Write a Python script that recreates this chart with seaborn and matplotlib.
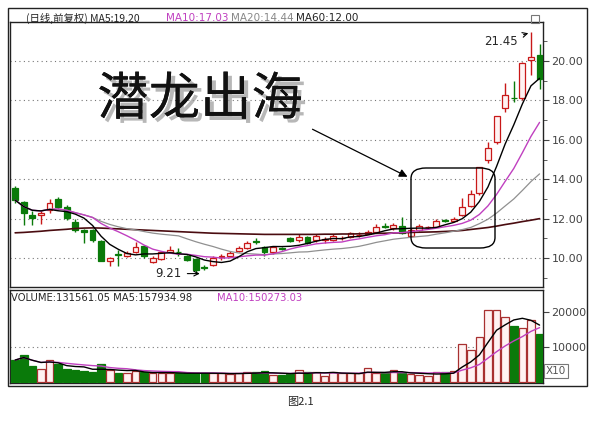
import numpy as np
import pandas as pd
import matplotlib
matplotlib.use("Agg")
import matplotlib.pyplot as plt
import matplotlib.patheffects as pe
from matplotlib.patches import Rectangle, FancyBboxPatch
import seaborn as sns

opens = [13.55,12.84,12.2,12.2,12.43,13.0,12.6,11.84,11.4,11.4,10.86,9.87,10.2,10.1,10.3,10.6,9.8,9.95,10.3,10.32,
         10.1,9.95,9.52,9.65,10.05,10.1,10.35,10.5,10.85,10.55,10.3,10.5,11.0,10.9,
         11.05,10.9,10.92,10.9,11.0,11.05,11.15,11.2,11.3,11.62,11.5,11.65,11.1,11.4,11.55,11.6,11.92,11.9,12.2,12.65,13.3,15.0,15.9,17.6,18.12,18.1,20.05,20.3]
closes = [12.94,12.28,12.05,12.3,12.77,12.6,12.05,11.42,11.3,10.9,9.86,10.0,10.15,10.24,10.55,10.1,10.0,10.3,10.4,10.3,
          9.9,9.4,9.5,10.0,10.07,10.25,10.5,10.78,10.8,10.3,10.55,10.48,10.85,11.05,
          10.78,11.1,10.93,11.1,11.0,11.25,11.18,11.3,11.6,11.6,11.7,11.25,11.4,11.65,11.58,11.9,11.9,12.0,12.6,13.25,14.6,15.6,17.2,18.3,18.1,19.9,20.2,19.1]
highs = [13.65,12.9,12.4,12.45,13.0,13.1,12.7,12.0,11.45,11.45,10.9,10.05,10.4,10.35,10.8,10.65,10.1,10.35,10.6,10.5,
         10.15,10.0,9.65,10.1,10.2,10.35,10.6,10.85,11.0,10.6,10.6,10.55,11.05,11.2,
         11.1,11.2,11.05,11.2,11.1,11.3,11.3,11.4,11.75,11.8,11.8,12.1,11.5,11.75,11.65,12.0,12.0,12.1,13.05,13.45,14.6,15.9,17.2,18.9,19.0,19.95,21.45,20.85]
lows = [12.8,11.67,11.7,11.75,12.3,12.5,11.95,11.3,10.76,10.8,9.85,9.6,9.6,10.05,10.25,10.0,9.75,9.9,10.25,10.1,
        9.85,9.21,9.4,9.6,9.9,10.05,10.3,10.45,10.7,10.1,10.2,10.4,10.8,10.8,
        10.7,10.8,10.75,10.85,10.9,11.0,11.05,11.2,11.25,11.5,11.4,11.2,11.05,11.35,11.45,11.55,11.85,11.85,12.15,12.6,13.2,14.8,15.8,17.4,17.9,18.0,19.3,18.6]
ma60 = [11.28,11.3,11.33,11.36,11.4,11.43,11.46,11.5,11.52,11.53,
        11.52,11.5,11.48,11.46,11.44,11.42,11.4,11.38,11.36,11.34,
        11.32,11.3,11.28,11.26,11.25,11.24,11.23,11.22,11.21,11.2,
        11.2,11.2,11.2,11.2,11.2,11.2,11.21,11.21,11.22,11.22,
        11.23,11.24,11.25,11.26,11.27,11.28,11.3,11.31,11.32,11.33,
        11.35,11.37,11.4,11.45,11.5,11.55,11.62,11.7,11.77,11.85,
        11.92,12.0]
volumes = [6190,7620,4570,3620,6190,4950,3620,3330,3050,2860,
           4950,3330,2380,2380,3050,2860,2380,2380,2380,2570,
           2380,2380,2380,2380,2380,2100,2380,2670,2670,3050,
           1900,1900,2100,3330,2670,2860,1710,2670,2380,2380,
           2380,3810,2380,2380,3330,2380,2100,1900,1710,2860,
           2670,3050,10670,9050,12860,20480,20480,18380,16000,15240,17620,13620]
price_ticks = [10, 12, 14, 16, 18, 20]
vol_ticks = [10000, 20000]

n = len(closes)
df = pd.DataFrame({"x": np.arange(n), "open": opens, "close": closes, "high": highs,
                   "low": lows, "vol": volumes, "ma60": ma60})
df["ma5"] = df["close"].rolling(5, min_periods=1).mean()
df["ma10"] = df["close"].rolling(10, min_periods=1).mean()
df["ma20"] = df["close"].rolling(20, min_periods=1).mean()
df["vma5"] = df["vol"].rolling(5, min_periods=1).mean()
df["vma10"] = df["vol"].rolling(10, min_periods=1).mean()

sns.set_style("white")
plt.rcParams['font.family'] = ['DejaVu Sans', 'Noto Sans CJK SC']

W, H = 599, 422
fig = plt.figure(figsize=(W/100, H/100), dpi=100)
def fx(x): return x / W
def fy(y): return 1 - y / H

axp = fig.add_axes([fx(10), fy(287), fx(543)-fx(10), fy(22)-fy(287)])
axv = fig.add_axes([fx(10), fy(383), fx(543)-fx(10), fy(290)-fy(383)])

UP_E, UP_F, DN = "#c81818", "#fff2f2", "#0a7a0a"
bw = 0.68
for r in df.itertuples():
    up = r.close >= r.open
    col = UP_E if up else DN
    bot, top = min(r.open, r.close), max(r.open, r.close)
    axp.vlines(r.x, r.low, bot, color=col, lw=1, zorder=3)
    axp.vlines(r.x, top, r.high, color=col, lw=1, zorder=3)
    h = max(top - bot, 0.03)
    axp.add_patch(Rectangle((r.x - bw/2, bot), bw, h, facecolor=UP_F if up else DN,
                            edgecolor=col, lw=0.9, zorder=4))
    axv.add_patch(Rectangle((r.x - 0.44, 0), 0.88, r.vol, facecolor=UP_F if up else DN,
                            edgecolor="#a83030" if up else DN, lw=0.9, zorder=3))

for col, c, lw in [("ma60", "#4a0c10", 1.2), ("ma20", "#909090", 0.9),
                   ("ma10", "#c040c0", 1.0), ("ma5", "#000000", 1.0)]:
    sns.lineplot(data=df, x="x", y=col, ax=axp, color=c, lw=lw, zorder=5)
sns.lineplot(data=df, x="x", y="vma10", ax=axv, color="#c040c0", lw=1.0, zorder=5)
sns.lineplot(data=df, x="x", y="vma5", ax=axv, color="#000000", lw=1.0, zorder=5)

for ax in (axp, axv):
    ax.set_xlim(-0.6, 61.4)
    ax.set_xlabel(""); ax.set_ylabel("")
    ax.set_xticks([])
    ax.yaxis.tick_right()
    ax.tick_params(axis="y", direction="out", length=4, labelsize=8, labelcolor="#444444",
                   colors="#444444", pad=2)
    for s in ax.spines.values():
        s.set_color("#222222"); s.set_linewidth(1)
axp.set_ylim(8.53, 21.98)
axp.set_yticks(price_ticks, [f"{v:.2f}" for v in price_ticks])
axp.set_yticks(np.arange(9, 22, 1), minor=True)
axp.tick_params(axis="y", which="minor", length=3, colors="#444444")
for v in price_ticks:
    axp.axhline(v, color="#777777", ls=(0, (1, 3)), lw=0.8, zorder=1)
axv.set_ylim(-370, 26200)
axv.set_yticks(vol_ticks, [str(v) for v in vol_ticks])
axv.axhline(10000, color="#777777", ls=(0, (1, 3)), lw=0.8, zorder=1)

axp.annotate("21.45", xy=(60, 21.45), xytext=(56.5, 21.0), fontsize=8.5, ha="center", va="center",
             arrowprops=dict(arrowstyle="->", lw=0.8, color="k"))
axp.annotate("9.21", xy=(21.8, 9.21), xytext=(17.8, 9.21), fontsize=8.5, ha="center", va="center",
             arrowprops=dict(arrowstyle="->", lw=0.8, color="k"))

fig.text(fx(26), fy(18), "(日线,前复权) MA5:19.20", fontsize=7.5, va="center",
         family=['Noto Sans CJK SC', 'DejaVu Sans'])
fig.text(fx(166), fy(18), "MA10:17.03", fontsize=7.5, va="center", color="#c040c0")
fig.text(fx(231), fy(18), "MA20:14.44", fontsize=7.5, va="center", color="#888888")
fig.text(fx(296), fy(18), "MA60:12.00", fontsize=7.5, va="center", color="#222222")
fig.text(fx(11), fy(298), "VOLUME:131561.05 MA5:157934.98", fontsize=7.2, va="center")
fig.text(fx(217), fy(298), "MA10:150273.03", fontsize=7.2, va="center", color="#c040c0")
fig.text(fx(546), fy(371), "X10", fontsize=7.5, va="center", color="#555555",
         bbox=dict(boxstyle="square,pad=0.15", fc="white", ec="#777777", lw=0.8))
fig.text(fx(300), fy(402), "图2.1", fontsize=8, ha="center", va="center",
         family=['Noto Sans CJK SC', 'DejaVu Sans'])

big = fig.text(fx(200), fy(100), "潜龙出海", fontsize=37, ha="center", va="center",
               family=['Noto Sans CJK SC'], weight="normal", color="#111111")
big.set_path_effects([pe.withSimplePatchShadow(offset=(3, -3), shadow_rgbFace="#999999", alpha=0.7), pe.Normal()])

fig.add_artist(matplotlib.patches.FancyArrowPatch((fx(310), fy(128)), (fx(410), fy(178)),
               transform=fig.transFigure, arrowstyle="-|>", mutation_scale=12, lw=0.9, color="k"))
fig.add_artist(FancyBboxPatch((fx(411), fy(248)), fx(495)-fx(411), fy(168)-fy(248),
               boxstyle="round,pad=0,rounding_size=0.025", transform=fig.transFigure,
               fill=False, ec="k", lw=1))
fig.add_artist(Rectangle((fx(8), fy(386)), fx(587)-fx(8), fy(8)-fy(386), transform=fig.transFigure,
               fill=False, ec="#222222", lw=1))
fig.add_artist(Rectangle((fx(531), fy(23)), fx(8), fy(0)-fy(8), transform=fig.transFigure,
               fill=False, ec="#777777", lw=0.8))

fig.savefig("out.png", dpi=100)
